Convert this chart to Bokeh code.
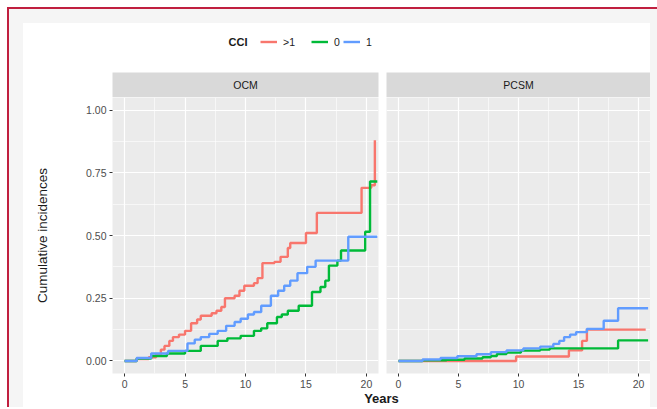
from bokeh.plotting import figure
from bokeh.models import (Range1d, FixedTicker, NumeralTickFormatter, Legend,
                          LegendItem, Label, Spacer)
from bokeh.layouts import column, row
from bokeh.embed import file_html
from bokeh.resources import INLINE

# ---------------- data ----------------
groups = [">1", "0", "1"]
colors = ["#F8766D", "#00BA38", "#619CFF"]
panels = ["OCM", "PCSM"]

ocm_t_gt1 = [0, 1.0, 2.0, 2.6, 3.0, 3.3, 3.7, 4.0, 4.5, 5.0, 5.5, 6.0, 6.3, 7.2, 7.6, 8.0,
             8.3, 9.1, 9.5, 9.9, 10.7, 11.0, 11.4, 12.4, 12.9, 13.5, 13.7, 15.0, 15.9,
             19.6, 20.4, 20.7]
ocm_v_gt1 = [0, 0.008, 0.015, 0.025, 0.045, 0.06, 0.08, 0.095, 0.105, 0.12, 0.15, 0.165,
             0.18, 0.19, 0.20, 0.215, 0.25, 0.26, 0.28, 0.30, 0.31, 0.33, 0.39, 0.395,
             0.415, 0.45, 0.47, 0.51, 0.59, 0.69, 0.70, 0.88]

ocm_t_0 = [0, 1.0, 2.2, 3.5, 5.0, 6.3, 7.7, 8.5, 9.6, 10.7, 11.3, 11.8, 12.6, 13.0, 13.5,
           14.4, 15.5, 16.2, 16.6, 16.9, 17.6, 17.9, 19.9, 20.3, 20.9]
ocm_v_0 = [0, 0.01, 0.02, 0.03, 0.04, 0.06, 0.08, 0.09, 0.10, 0.12, 0.13, 0.15, 0.175,
           0.185, 0.20, 0.22, 0.275, 0.295, 0.32, 0.38, 0.40, 0.44, 0.515, 0.715, 0.715]

ocm_t_1 = [0, 1.0, 2.2, 3.6, 5.2, 5.8, 6.3, 7.0, 7.7, 8.4, 9.1, 9.6, 10.2, 10.7, 11.3,
           12.1, 12.7, 13.2, 13.7, 14.3, 15.1, 15.8, 18.5, 20.9]
ocm_v_1 = [0, 0.012, 0.03, 0.04, 0.07, 0.085, 0.095, 0.108, 0.12, 0.14, 0.155, 0.168,
           0.185, 0.195, 0.22, 0.26, 0.28, 0.30, 0.32, 0.35, 0.375, 0.40, 0.495, 0.495]

pcsm_t_gt1 = [0, 9.8, 14.2, 15.3, 15.7, 20.6]
pcsm_v_gt1 = [0, 0.018, 0.042, 0.08, 0.125, 0.125]

pcsm_t_0 = [0, 2.0, 4.0, 5.5, 7.0, 7.7, 8.2, 9.0, 10.2, 11.8, 12.6, 18.3, 20.8]
pcsm_v_0 = [0, 0.003, 0.005, 0.01, 0.015, 0.02, 0.028, 0.033, 0.041, 0.045, 0.05,
            0.082, 0.082]

pcsm_t_1 = [0, 2.0, 3.5, 4.9, 6.5, 7.7, 9.0, 10.4, 11.8, 12.9, 13.4, 13.8, 14.3, 14.8,
            15.7, 17.1, 18.3, 20.8]
pcsm_v_1 = [0, 0.006, 0.012, 0.019, 0.027, 0.035, 0.042, 0.05, 0.057, 0.068, 0.08,
            0.095, 0.105, 0.115, 0.128, 0.16, 0.21, 0.21]

x_ticks = [0, 5, 10, 15, 20]
x_minor = [2.5, 7.5, 12.5, 17.5]
y_ticks = [0, 0.25, 0.5, 0.75, 1.0]
y_minor = [0.125, 0.375, 0.625, 0.875]

series = {
    "OCM": [(ocm_t_gt1, ocm_v_gt1), (ocm_t_0, ocm_v_0), (ocm_t_1, ocm_v_1)],
    "PCSM": [(pcsm_t_gt1, pcsm_v_gt1), (pcsm_t_0, pcsm_v_0), (pcsm_t_1, pcsm_v_1)],
}

FONT = "Liberation Sans"
LW = 2.4
RED = "#C01F3F"
GREY = "#F5F5F5"
x_range = Range1d(-1, 21)
y_range = Range1d(-0.05, 1.05)


def bare(p):
    p.outline_line_color = None
    p.xgrid.visible = False
    p.ygrid.visible = False
    p.border_fill_color = "white"
    return p


def make_strip(name, fw, bl, br):
    s = figure(frame_width=fw, frame_height=25, x_range=Range1d(0, 1), y_range=Range1d(0, 1),
               output_backend="svg", toolbar_location=None, min_border_left=bl,
               min_border_right=br, min_border_top=0, min_border_bottom=0,
               x_axis_location=None, y_axis_location=None)
    bare(s)
    s.background_fill_color = "#D9D9D9"
    s.add_layout(Label(x=0.5, y=0.5, text=name, text_align="center", text_baseline="middle",
                       text_font=FONT, text_font_size="10.5px", text_color="#1A1A1A"))
    return s


def make_panel(name, fw, show_y, bl, br):
    p = figure(frame_width=fw, frame_height=276, x_range=x_range, y_range=y_range,
               output_backend="svg", toolbar_location=None,
               min_border_left=bl, min_border_right=br,
               min_border_top=0, min_border_bottom=0,
               y_axis_location="left" if show_y else None)
    p.background_fill_color = "#EBEBEB"
    p.border_fill_color = "white"
    p.outline_line_color = None
    p.xaxis.ticker = FixedTicker(ticks=x_ticks, minor_ticks=x_minor)
    p.xgrid.grid_line_color = "white"
    p.xgrid.grid_line_width = 1.2
    p.xgrid.minor_grid_line_color = "white"
    p.xgrid.minor_grid_line_width = 0.6
    p.ygrid.ticker = FixedTicker(ticks=y_ticks, minor_ticks=y_minor)
    p.ygrid.grid_line_color = "white"
    p.ygrid.grid_line_width = 1.2
    p.ygrid.minor_grid_line_color = "white"
    p.ygrid.minor_grid_line_width = 0.6
    axes = list(p.xaxis) + (list(p.yaxis) if show_y else [])
    for ax in axes:
        ax.axis_line_color = None
        ax.major_tick_line_color = "#333333"
        ax.major_tick_out = 3
        ax.major_tick_in = 0
        ax.minor_tick_line_color = None
        ax.major_label_text_color = "#4D4D4D"
        ax.major_label_text_font = FONT
        ax.major_label_text_font_size = "10.5px"
        ax.major_label_standoff = 2
    if show_y:
        p.yaxis.ticker = FixedTicker(ticks=y_ticks, minor_ticks=y_minor)
        p.yaxis.formatter = NumeralTickFormatter(format="0.00")
        p.yaxis.axis_label = "Cumulative incidences"
        p.yaxis.axis_label_text_font = FONT
        p.yaxis.axis_label_text_font_size = "13.5px"
        p.yaxis.axis_label_text_font_style = "normal"
        p.yaxis.axis_label_text_color = "#1A1A1A"
        p.yaxis.axis_label_standoff = 33
    for (t, v), c in zip(series[name], colors):
        p.step(x=t, y=v, mode="after", line_color=c, line_width=LW)
    return p


s1 = make_strip("OCM", 266, 89, 4)
s2 = make_strip("PCSM", 264, 4, 0)
p1 = make_panel("OCM", 266, True, 89, 4)
p2 = make_panel("PCSM", 264, False, 4, 0)

# legend strip on top (renderers kept off-range, only used for the legend keys)
leg = figure(width=627, height=49, x_range=Range1d(-1, 21), y_range=Range1d(5, 6),
             output_backend="svg", toolbar_location=None, min_border=0,
             x_axis_location=None, y_axis_location=None)
bare(leg)
key_x = [237, 288, 320]   # screen offsets of the three legend keys
for (t, v), c, g, kx in zip(series["OCM"], colors, groups, key_x):
    r = leg.step(x=t, y=v, mode="after", line_color=c, line_width=LW)
    lg = Legend(items=[LegendItem(label=g, renderers=[r])], orientation="horizontal",
                location=(kx, 22), label_text_font=FONT, label_text_font_size="10.5px",
                label_text_color="#1A1A1A", label_standoff=6,
                glyph_width=17, glyph_height=17, padding=0, margin=0,
                border_line_color=None, background_fill_alpha=0)
    leg.add_layout(lg, "center")
leg.add_layout(Label(x=205, y=31, x_units="screen", y_units="screen", text="CCI",
                     text_align="left", text_baseline="middle", text_font=FONT,
                     text_font_size="11px", text_font_style="bold", text_color="#1A1A1A"))

# shared x-axis title
yrs = figure(width=627, height=15, x_range=Range1d(0, 1), y_range=Range1d(0, 1),
             output_backend="svg", toolbar_location=None, min_border=0,
             x_axis_location=None, y_axis_location=None)
bare(yrs)
yrs.add_layout(Label(x=358, y=0, x_units="screen", y_units="screen", text="Years",
                     text_align="center", text_baseline="bottom", text_font=FONT,
                     text_font_size="13px", text_font_style="bold",
                     text_color="#1A1A1A"))

content = column(leg, row(s1, s2), row(p1, p2), yrs)

# decorative page frame: thin red border on top/left and a light grey mat
frame = column(
    Spacer(width=650, height=2, styles={"background-color": RED}),
    row(
        Spacer(width=2, height=398, styles={"background-color": RED}),
        column(
            Spacer(width=648, height=14, styles={"background-color": GREY}),
            row(Spacer(width=14, height=384, styles={"background-color": GREY}),
                content,
                Spacer(width=7, height=384, styles={"background-color": GREY})),
        ),
    ),
)
layout = column(Spacer(width=657, height=7),
                row(Spacer(width=7, height=402), frame))

open("out.html", "w").write(file_html(layout, INLINE))
